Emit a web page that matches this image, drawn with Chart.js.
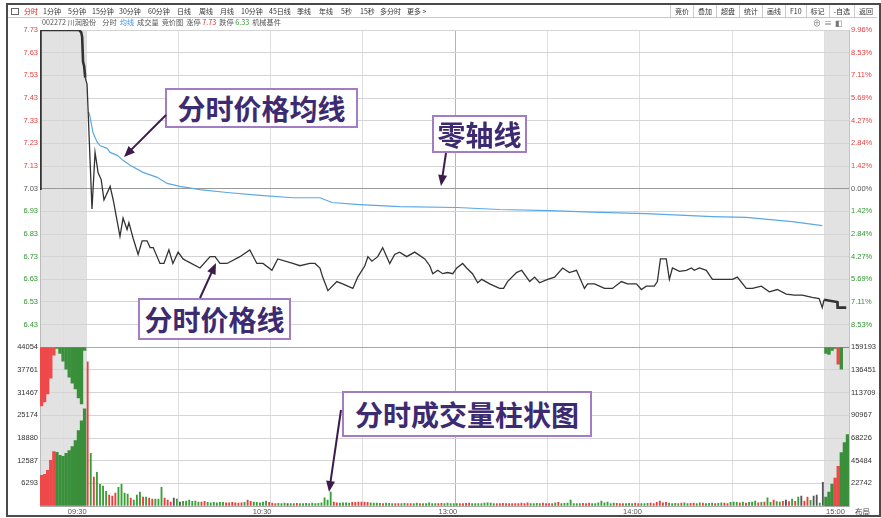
<!DOCTYPE html>
<html lang="zh-CN">
<head>
<meta charset="UTF-8">
<title>川润股份 分时图</title>
<script src="https://cdn.jsdelivr.net/npm/chart.js"></script>
<style>
  html, body { margin: 0; padding: 0; background: #fff; }
  body {
    width: 881px; height: 518px; position: relative; overflow: hidden;
    font-family: "Noto Sans CJK SC", "Liberation Sans", sans-serif;
  }
  #chartBox { position: absolute; left: 0; top: 0; width: 881px; height: 518px; }
  .frame {
    position: absolute; left: 6px; top: 3px; width: 871px; height: 510px;
    border: 2px solid #4a4a4a; pointer-events: none;
  }
  .toolbar {
    position: absolute; left: 8px; top: 5px; width: 869px; height: 12px;
    border-bottom: 1px solid #c8c8c8; background: #fff;
  }
  .toolbar span { position: absolute; top: 0; font-size: 7px; line-height: 12px; color: #333; white-space: nowrap; }
  .toolbar .on { color: #e02020; }
  .toolbar .icon { left: 3px; top: 3px; width: 6px; height: 5px; border: 1px solid #666; }
  .btns { position: absolute; right: 0; top: 0; height: 12px; display: flex; }
  .btns span { position: static; padding: 0 4px; border-left: 1px solid #ccc; }
  .row2 {
    position: absolute; left: 42px; top: 17px; height: 11px; display: flex; gap: 3px;
    font-size: 7.2px; line-height: 11px; color: #555; white-space: nowrap;
  }
  .row2 .sp { margin-right: 3px; }
  .icons { position: absolute; left: 813px; top: 17px; font-size: 8px; line-height: 11px; color: #777; letter-spacing: 3px; }
  .corner { position: absolute; left: 855px; top: 506px; font-size: 7.5px; line-height: 11px; color: #444; }
  .note {
    position: absolute; box-sizing: border-box; border: 2px solid #a27cc4; background: #fff;
    color: #3d2b72; font-size: 28px; font-weight: bold; line-height: 1;
    display: flex; align-items: center; justify-content: center; white-space: nowrap;
  }
  #arrows { position: absolute; left: 0; top: 0; pointer-events: none; }
</style>
</head>
<body>
<div id="chartBox"><canvas id="fs" width="881" height="518"></canvas></div>

<div class="toolbar">
  <span class="icon"></span>
  <span class="on" style="left:16px">分时</span>
  <span style="left:35px">1分钟</span>
  <span style="left:60px">5分钟</span>
  <span style="left:84px">15分钟</span>
  <span style="left:111px">30分钟</span>
  <span style="left:140px">60分钟</span>
  <span style="left:169px">日线</span>
  <span style="left:191px">周线</span>
  <span style="left:212px">月线</span>
  <span style="left:233px">10分钟</span>
  <span style="left:261px">45日线</span>
  <span style="left:289px">季线</span>
  <span style="left:311px">年线</span>
  <span style="left:333px">5秒</span>
  <span style="left:352px">15秒</span>
  <span style="left:372px">多分时</span>
  <span style="left:399px">更多 &gt;</span>
  <div class="btns">
    <span>竞价</span><span>叠加</span><span>超盘</span><span>统计</span><span>画线</span>
    <span>F10</span><span>标记</span><span>-自选</span><span>返回</span>
  </div>
</div>
<div class="row2">
  <span class="sp">002272 川润股份</span>
  <span>分时</span>
  <span style="color:#3a8ee6">均线</span>
  <span>成交量</span>
  <span>竞价图</span>
  <span>涨停 <span style="color:#e03030">7.73</span></span>
  <span>跌停 <span style="color:#2f962f">6.33</span></span>
  <span>机械基件</span>
</div>
<div class="icons">⊕≡◧</div>
<div class="corner">布局</div>

<div class="note" style="left:165px;top:88px;width:193px;height:40px;">分时价格均线</div>
<div class="note" style="left:432px;top:115px;width:95px;height:38px;">零轴线</div>
<div class="note" style="left:138px;top:298px;width:153px;height:42px;">分时价格线</div>
<div class="note" style="left:342px;top:391px;width:250px;height:46px;">分时成交量柱状图</div>
<svg id="arrows" width="881" height="518"></svg>
<div class="frame"></div>

<script>
// ---- data (x = minutes after 09:30, auction is negative) ----
const prevClose = 7.03;
const priceTicks = [7.73, 7.63, 7.53, 7.43, 7.33, 7.23, 7.13, 7.03, 6.93, 6.83, 6.73, 6.63, 6.53, 6.43];
const pctLabels = ['9.96%', '8.53%', '7.11%', '5.69%', '4.27%', '2.84%', '1.42%', '0.00%',
                   '1.42%', '2.84%', '4.27%', '5.69%', '7.11%', '8.53%'];
const volTicksL = [0, 6293, 12587, 18880, 25174, 31467, 37761, 44054];
const volTicksR = [0, 22742, 45484, 68226, 90967, 113709, 136451, 159193];
const timeLabels = ['09:30', '10:30', '13:00', '14:00', '15:00'];
const timeLabelAt = [-2.9, 57.2, 117.6, 177.6, 243.6];
const gridMinutes = [-7.5, 0, 30, 60, 90, 120, 150, 180, 210, 240];

const priceT = [-15, -14.85, -2.3, -1.6, -1.3, -1.0, -0.65, -0.3,
  0.3, 1.9, 2.9, 3.9, 4.9, 5.8, 7.8, 8.8, 11.0, 12.0, 13.3, 13.9, 15.3, 16.9, 18.2, 19.8, 20.8, 21.8,
  24.0, 25.3, 26.9, 28.2, 29.9, 31.5, 32.8, 37.0, 40.3, 41.9, 43.5, 45.8, 50.0, 53.2, 55.5, 57.5,
  60.4, 62.3, 67.2, 69.5, 72.7, 74.4, 76.0, 76.9, 78.6, 81.5, 83.4, 86.7, 88.3, 90.6, 91.6, 92.9,
  94.8, 96.4, 97.7, 98.7, 100.3, 101.9, 104.2, 106.8, 110.1, 111.7, 112.7, 114.3, 115.9, 117.5, 119.2,
  120.5, 122.4, 123.7, 125.6, 127.3, 128.6, 131.2, 134.4, 135.7, 137.0, 139.9, 141.6, 144.2, 145.8,
  147.4, 150.0, 152.3, 154.9, 157.1, 159.4, 162.0, 163.0, 165.3, 166.9, 168.5, 171.1, 174.0, 176.0,
  178.9, 180.5, 182.1, 184.7, 185.7, 186.7, 188.6, 189.6, 190.6, 192.9, 195.1, 196.8, 197.7, 199.4,
  201.6, 203.6, 206.8, 210.1, 211.7, 214.6, 216.6, 219.5, 222.1, 224.7, 227.6, 230.2, 232.8, 236.0,
  238.3, 239.3, 239.9, 244.2, 244.3, 247.1];
const priceV = [7.03, 7.73, 7.73, 7.72, 7.70, 7.59, 7.57, 7.52,
  7.49, 6.94, 7.19, 7.10, 7.07, 6.98, 7.04, 6.98, 6.82, 6.90, 6.85, 6.88, 6.81, 6.74, 6.80, 6.80, 6.77, 6.77,
  6.70, 6.70, 6.76, 6.70, 6.75, 6.72, 6.71, 6.68, 6.73, 6.73, 6.70, 6.70, 6.73, 6.76, 6.70, 6.70,
  6.67, 6.72, 6.70, 6.69, 6.70, 6.70, 6.68, 6.64, 6.58, 6.62, 6.61, 6.59, 6.64, 6.69, 6.73, 6.71,
  6.73, 6.77, 6.73, 6.70, 6.74, 6.75, 6.73, 6.75, 6.72, 6.69, 6.655, 6.67, 6.655, 6.66, 6.655,
  6.68, 6.70, 6.68, 6.655, 6.615, 6.63, 6.61, 6.59, 6.59, 6.62, 6.66, 6.67, 6.62, 6.64,
  6.615, 6.63, 6.64, 6.68, 6.66, 6.67, 6.59, 6.61, 6.61, 6.60, 6.59, 6.59, 6.62, 6.61,
  6.61, 6.585, 6.60, 6.60, 6.62, 6.72, 6.72, 6.63, 6.68, 6.665, 6.67, 6.68, 6.67, 6.68,
  6.67, 6.63, 6.63, 6.63, 6.64, 6.59, 6.59, 6.60, 6.575, 6.585, 6.565, 6.56, 6.56, 6.55,
  6.545, 6.505, 6.54, 6.53, 6.505, 6.505];

const avgT = [0.6, 1.0, 2.3, 3.6, 4.5, 6.8, 7.8, 10.1, 12.0, 14.3, 18.5, 23.1, 26.3, 30.5, 37.0, 45.8,
  56.5, 67.2, 76.0, 79.9, 89.0, 101.9, 120.5, 134.4, 150.6, 166.9, 182.1, 203.6, 214.6, 229.5, 239.3];
const avgV = [7.367, 7.363, 7.274, 7.235, 7.22, 7.208, 7.19, 7.177, 7.155, 7.133, 7.102, 7.08, 7.053, 7.04,
  7.026, 7.013, 7.0, 6.99, 6.99, 6.969, 6.96, 6.951, 6.947, 6.938, 6.933, 6.925, 6.92, 6.907, 6.903,
  6.885, 6.867];

// per-minute volume, 09:30 .. 14:59
const vol = [
  40000, 14600, 8000, 9350, 6000, 5500, 4100, 3000, 2750, 3600,
  5200, 6000, 3600, 3300, 2200, 1650, 3000, 3850, 2500, 2500,
  2200, 1900, 1900, 1900, 5200, 2200, 1650, 1100, 2200, 1900,
  1100, 1300, 1400, 1650, 1300, 1400, 1100, 1100, 1300, 1000,
  900, 1000, 900, 1000, 1000, 900, 900, 1000, 900, 800,
  900, 1000, 1650, 1300, 1100, 1000, 900, 1100, 1400, 1000,
  800, 700, 750, 700, 800, 700, 650, 700, 750, 700,
  700, 750, 700, 800, 700, 750, 900, 2300, 1650, 3850,
  1100, 900, 800, 900, 900, 800, 1000, 1000, 1100, 1100,
  1100, 1000, 900, 800, 800, 750, 700, 800, 750, 700,
  700, 650, 700, 750, 700, 650, 700, 800, 700, 650,
  700, 900, 700, 650, 700, 750, 700, 800, 700, 650,
  700, 650, 700, 750, 800, 700, 650, 700, 650, 800,
  900, 800, 700, 650, 700, 750, 700, 650, 700, 650,
  700, 800, 700, 900, 650, 700, 750, 700, 800, 700,
  650, 700, 900, 1000, 700, 750, 800, 1650, 700, 650,
  700, 750, 700, 800, 700, 650, 900, 1400, 900, 1100,
  700, 800, 750, 700, 650, 700, 750, 700, 800, 700,
  650, 700, 750, 800, 700, 1000, 1400, 900, 1000, 800,
  700, 750, 700, 800, 900, 700, 750, 800, 700, 900,
  800, 700, 750, 800, 700, 750, 900, 800, 700, 1000,
  1100, 1000, 900, 1100, 800, 1000, 1100, 1400, 900, 1000,
  1100, 2300, 1000, 1650, 1200, 1100, 1300, 1650, 1200, 1900,
  1300, 2500, 2750, 1400, 2500, 1600, 2750, 3000, 800, 6600];
const volSide = ('rgrggggrrr ggggrgggrg rrgggrrrng nggggggrrg gggggrrrrr rgrrgggggr ' +
  'rrgggnggrg gggggggggg rrggggrrrr rrggggrggg rrggrrggrg ggggrrgggg ' +
  'grrrrggggg gggrrrrrrr rrrrggggrr rrgrgggggg grrrgggggg ggrrrgggrr ' +
  'gggrrrrrrg gggrggrrgg rgggrggrrg ggrgrgggrg rggrggrnrg rgnrrgnngn').replace(/ /g, '').split('');

// opening call auction (09:15-09:30): matched volume from below, unmatched hanging from the top
const openT = [-14.5, -13.5, -12.5, -11.5, -10.5, -9.5, -8.5, -7.5, -6.5, -5.5, -4.5, -3.5, -2.5, -1.5, -0.5];
const openMatched = [8530, 8810, 9910, 12660, 15140, 14870, 14040, 13770, 14590, 15420, 16520, 18170, 20920, 23680, 26980];
const openHangTo = [27805, 28906, 31109, 35514, 41846, 43773, 42396, 40194, 37991, 35789, 34137, 32485, 30008, 28356, 43222];
const openSide = 'rrrrrgggggggggg'.split('');

// closing call auction, right-hand volume scale
const closeT = [240.5, 241.5, 242.5, 243.5, 244.5, 245.5, 246.5, 247.5];
const closeMatched = [8950, 13900, 21900, 27900, 39800, 53700, 63700, 71600];
const closeSide = 'gggrrggg'.split('');
const closeHangTo = [153200, 152200, 156200, 158200, 142300, 137300, 159193, 159193];
const closeHangSide = 'ggggrggg'.split('');

// ---- chart ----
const RED = '#e84040', GREEN = '#2f962f';
const BAR = { r: '#ee3b3b', g: '#35a035', n: '#555555' };
const AUC = { r: '#ee4848', g: '#3a8f3a', n: '#666666' };
const sideColor = c => {
  if (!c.tick) return '#555';
  const v = c.tick.value;
  return v > prevClose + 1e-6 ? RED : (v < prevClose - 1e-6 ? GREEN : '#555');
};

Chart.defaults.font.family = '"Liberation Sans", Arial, sans-serif';
Chart.defaults.font.size = 7.5;

const shade = {
  id: 'shade',
  beforeDraw(chart) {
    const { ctx, chartArea: a, scales: { x } } = chart;
    const x0 = x.getPixelForValue(0), x1 = x.getPixelForValue(240);
    ctx.save();
    ctx.fillStyle = '#e2e2e2';
    ctx.fillRect(a.left, a.top, x0 - a.left, a.bottom - a.top);
    ctx.fillRect(x1, a.top, a.right - x1, a.bottom - a.top);
    ctx.restore();
  }
};

const hangMax = 44054, hangMaxR = 159193;

new Chart(document.getElementById('fs'), {
  type: 'line',
  data: {
    datasets: [
      {
        label: '价格', data: priceT.map((t, i) => ({ x: t, y: priceV[i] })),
        borderColor: '#333', borderWidth: 1.3, pointRadius: 0, tension: 0,
        xAxisID: 'x', yAxisID: 'y',
        segment: { borderWidth: c => (c.p1.parsed.x <= 0 || c.p0.parsed.x >= 239.9) ? 2.6 : 1.3 }
      },
      {
        label: '均价', data: avgT.map((t, i) => ({ x: t, y: avgV[i] })),
        borderColor: '#5aa8e6', borderWidth: 1.2, pointRadius: 0, tension: 0,
        xAxisID: 'x', yAxisID: 'y'
      },
      {
        type: 'bar', label: '成交量', data: vol.map((v, i) => ({ x: i + 0.5, y: v })),
        backgroundColor: volSide.map(s => BAR[s]), barThickness: 1.2, grouped: false,
        xAxisID: 'x', yAxisID: 'yv'
      },
      {
        type: 'bar', label: '竞价匹配', data: openT.map((t, i) => ({ x: t, y: openMatched[i] })),
        backgroundColor: openSide.map(s => AUC[s]), barThickness: 2.7, grouped: false,
        xAxisID: 'x', yAxisID: 'yv'
      },
      {
        type: 'bar', label: '竞价未匹配', data: openT.map((t, i) => ({ x: t, y: [openHangTo[i], hangMax] })),
        backgroundColor: openSide.map(s => AUC[s]), barThickness: 2.7, grouped: false,
        xAxisID: 'x', yAxisID: 'yv'
      },
      {
        type: 'bar', label: '收盘竞价', data: closeT.map((t, i) => ({ x: t, y: closeMatched[i] })),
        backgroundColor: closeSide.map(s => AUC[s]), barThickness: 2.7, grouped: false,
        xAxisID: 'x', yAxisID: 'yv2'
      },
      {
        type: 'bar', label: '收盘未匹配', data: closeT.map((t, i) => ({ x: t, y: [closeHangTo[i], hangMaxR] })),
        backgroundColor: closeHangSide.map(s => AUC[s]), barThickness: 2.7, grouped: false,
        xAxisID: 'x', yAxisID: 'yv2'
      }
    ]
  },
  options: {
    responsive: false,
    animation: false,
    devicePixelRatio: 1,
    layout: { padding: { top: 30, left: 0, right: 0, bottom: 0 }, autoPadding: false },
    plugins: { legend: { display: false }, tooltip: { enabled: false } },
    scales: {
      x: {
        type: 'linear', position: 'bottom', min: -15, max: 248, offset: false,
        afterBuildTicks: s => { s.ticks = gridMinutes.map(v => ({ value: v })); },
        ticks: { display: false },
        grid: { offset: false, drawTicks: false,
                color: c => (c.tick && c.tick.value === 120) ? '#b4b4b4' : '#dedede' },
        border: { display: false },
        afterFit: s => { s.height = 0; }
      },
      xl: {
        type: 'linear', position: 'bottom', min: -15, max: 248, offset: false,
        afterBuildTicks: s => { s.ticks = timeLabelAt.map(v => ({ value: v })); },
        ticks: { callback: (v, i) => timeLabels[i], color: '#555', padding: 1, maxRotation: 0, autoSkip: false },
        grid: { display: false, drawTicks: false },
        border: { display: false },
        afterFit: s => { s.height = 12; }
      },
      // left stack: the later-declared axis sits on top, so volume comes first
      yv: {
        position: 'left', stack: 'L', stackWeight: 1, min: 0, max: 44054,
        afterBuildTicks: s => { s.ticks = volTicksL.map(v => ({ value: v })); },
        ticks: { callback: v => v === 0 ? '' : String(v), color: '#333', padding: 2, autoSkip: false },
        grid: { drawTicks: false,
                color: c => (c.tick && (c.tick.value === 0 || c.tick.value === 44054)) ? '#a8a8a8' : '#d4d4d4' },
        border: { color: '#bbb' },
        afterFit: s => { s.width = 40; }
      },
      y: {
        position: 'left', stack: 'L', stackWeight: 2, min: 6.33, max: 7.73,
        afterBuildTicks: s => { s.ticks = priceTicks.map(v => ({ value: v })); },
        ticks: { callback: v => v.toFixed(2), color: sideColor, padding: 2, autoSkip: false },
        grid: { drawTicks: false,
                color: c => (c.tick && Math.abs(c.tick.value - prevClose) < 1e-6) ? '#9a9a9a' : '#d4d4d4' },
        border: { color: '#bbb' },
        afterFit: s => { s.width = 40; }
      },
      yp: {
        position: 'right', stack: 'R', stackWeight: 2, min: 6.33, max: 7.73,
        afterBuildTicks: s => { s.ticks = priceTicks.map(v => ({ value: v })); },
        ticks: { callback: (v, i) => pctLabels[i], color: sideColor, padding: 2, autoSkip: false },
        grid: { display: false, drawTicks: false },
        border: { color: '#c4c4c4' },
        afterFit: s => { s.width = 32; }
      },
      yv2: {
        position: 'right', stack: 'R', stackWeight: 1, min: 0, max: 159193,
        afterBuildTicks: s => { s.ticks = volTicksR.map(v => ({ value: v })); },
        ticks: { callback: v => v === 0 ? '' : String(v), color: '#333', padding: 2, autoSkip: false },
        grid: { display: false, drawTicks: false },
        border: { color: '#c4c4c4' },
        afterFit: s => { s.width = 32; }
      }
    }
  },
  plugins: [shade]
});

// ---- annotation arrows ----
const ns = 'http://www.w3.org/2000/svg';
const svg = document.getElementById('arrows');
const arrows = [[166, 115, 124, 157], [446, 153, 441, 186], [200, 298, 216, 263], [341, 410, 329, 492]];
arrows.forEach(([x1, y1, x2, y2]) => {
  const dx = x2 - x1, dy = y2 - y1, L = Math.hypot(dx, dy), ux = dx / L, uy = dy / L;
  const bx = x2 - ux * 11, by = y2 - uy * 11;
  const line = document.createElementNS(ns, 'line');
  line.setAttribute('x1', x1); line.setAttribute('y1', y1);
  line.setAttribute('x2', bx + ux * 2); line.setAttribute('y2', by + uy * 2);
  line.setAttribute('stroke', '#3b1c4c'); line.setAttribute('stroke-width', '2');
  svg.appendChild(line);
  const head = document.createElementNS(ns, 'polygon');
  head.setAttribute('points', `${x2},${y2} ${bx - uy * 4.5},${by + ux * 4.5} ${bx + uy * 4.5},${by - ux * 4.5}`);
  head.setAttribute('fill', '#3b1c4c');
  svg.appendChild(head);
});
</script>
</body>
</html>
